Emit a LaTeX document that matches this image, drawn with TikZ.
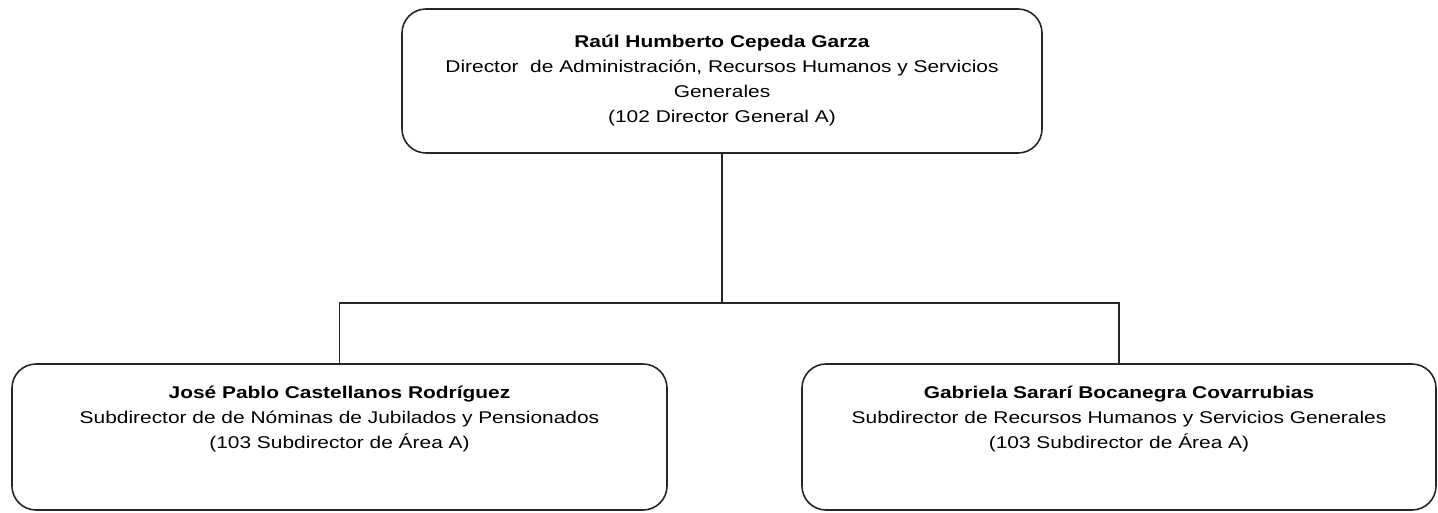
\documentclass[tikz,border=0pt]{standalone}
\usepackage{fontspec}
\setmainfont[FakeStretch=1.23]{Liberation Sans}
\usepackage{tikz}
\tikzset{puesto/.style={draw=black!85,line width=1.6pt,rounded corners=24pt,
  align=center,inner sep=0pt,font=\fontsize{17}{25}\selectfont},
 enlace/.style={draw=black!85,line width=1.6pt},
 }

\begin{document}
\begin{tikzpicture}[x=1pt,y=-1pt]
        \clip (0,0) rectangle (1438,512);
        \node[puesto,minimum width=640pt,minimum height=144pt] (director) at (722,81)
            {\textbf{Raúl Humberto Cepeda Garza}\\
             Director\ \ de Administración, Recursos Humanos y Servicios\\
             Generales\\
             (102 Director General A)};
        \node[puesto,minimum width=655pt,minimum height=146pt] (jose) at (339.5,437)
            {\textbf{José Pablo Castellanos Rodríguez}\\
             Subdirector de de Nóminas de Jubilados y Pensionados\\
             (103 Subdirector de Área A)\\[14pt]~};
        \node[puesto,minimum width=634pt,minimum height=146pt] (gabriela) at (1119,437)
            {\textbf{Gabriela Sararí Bocanegra Covarrubias}\\
             Subdirector de Recursos Humanos y Servicios Generales\\
             (103 Subdirector de Área A)\\[14pt]~};
        \coordinate (barra) at (722,303);
        \draw[enlace] (director.south) -- (barra);
        \draw[enlace] (jose.north) -- (jose.north |- barra) -- (gabriela.north |- barra) -- (gabriela.north);
    \end{tikzpicture}
\end{document}
